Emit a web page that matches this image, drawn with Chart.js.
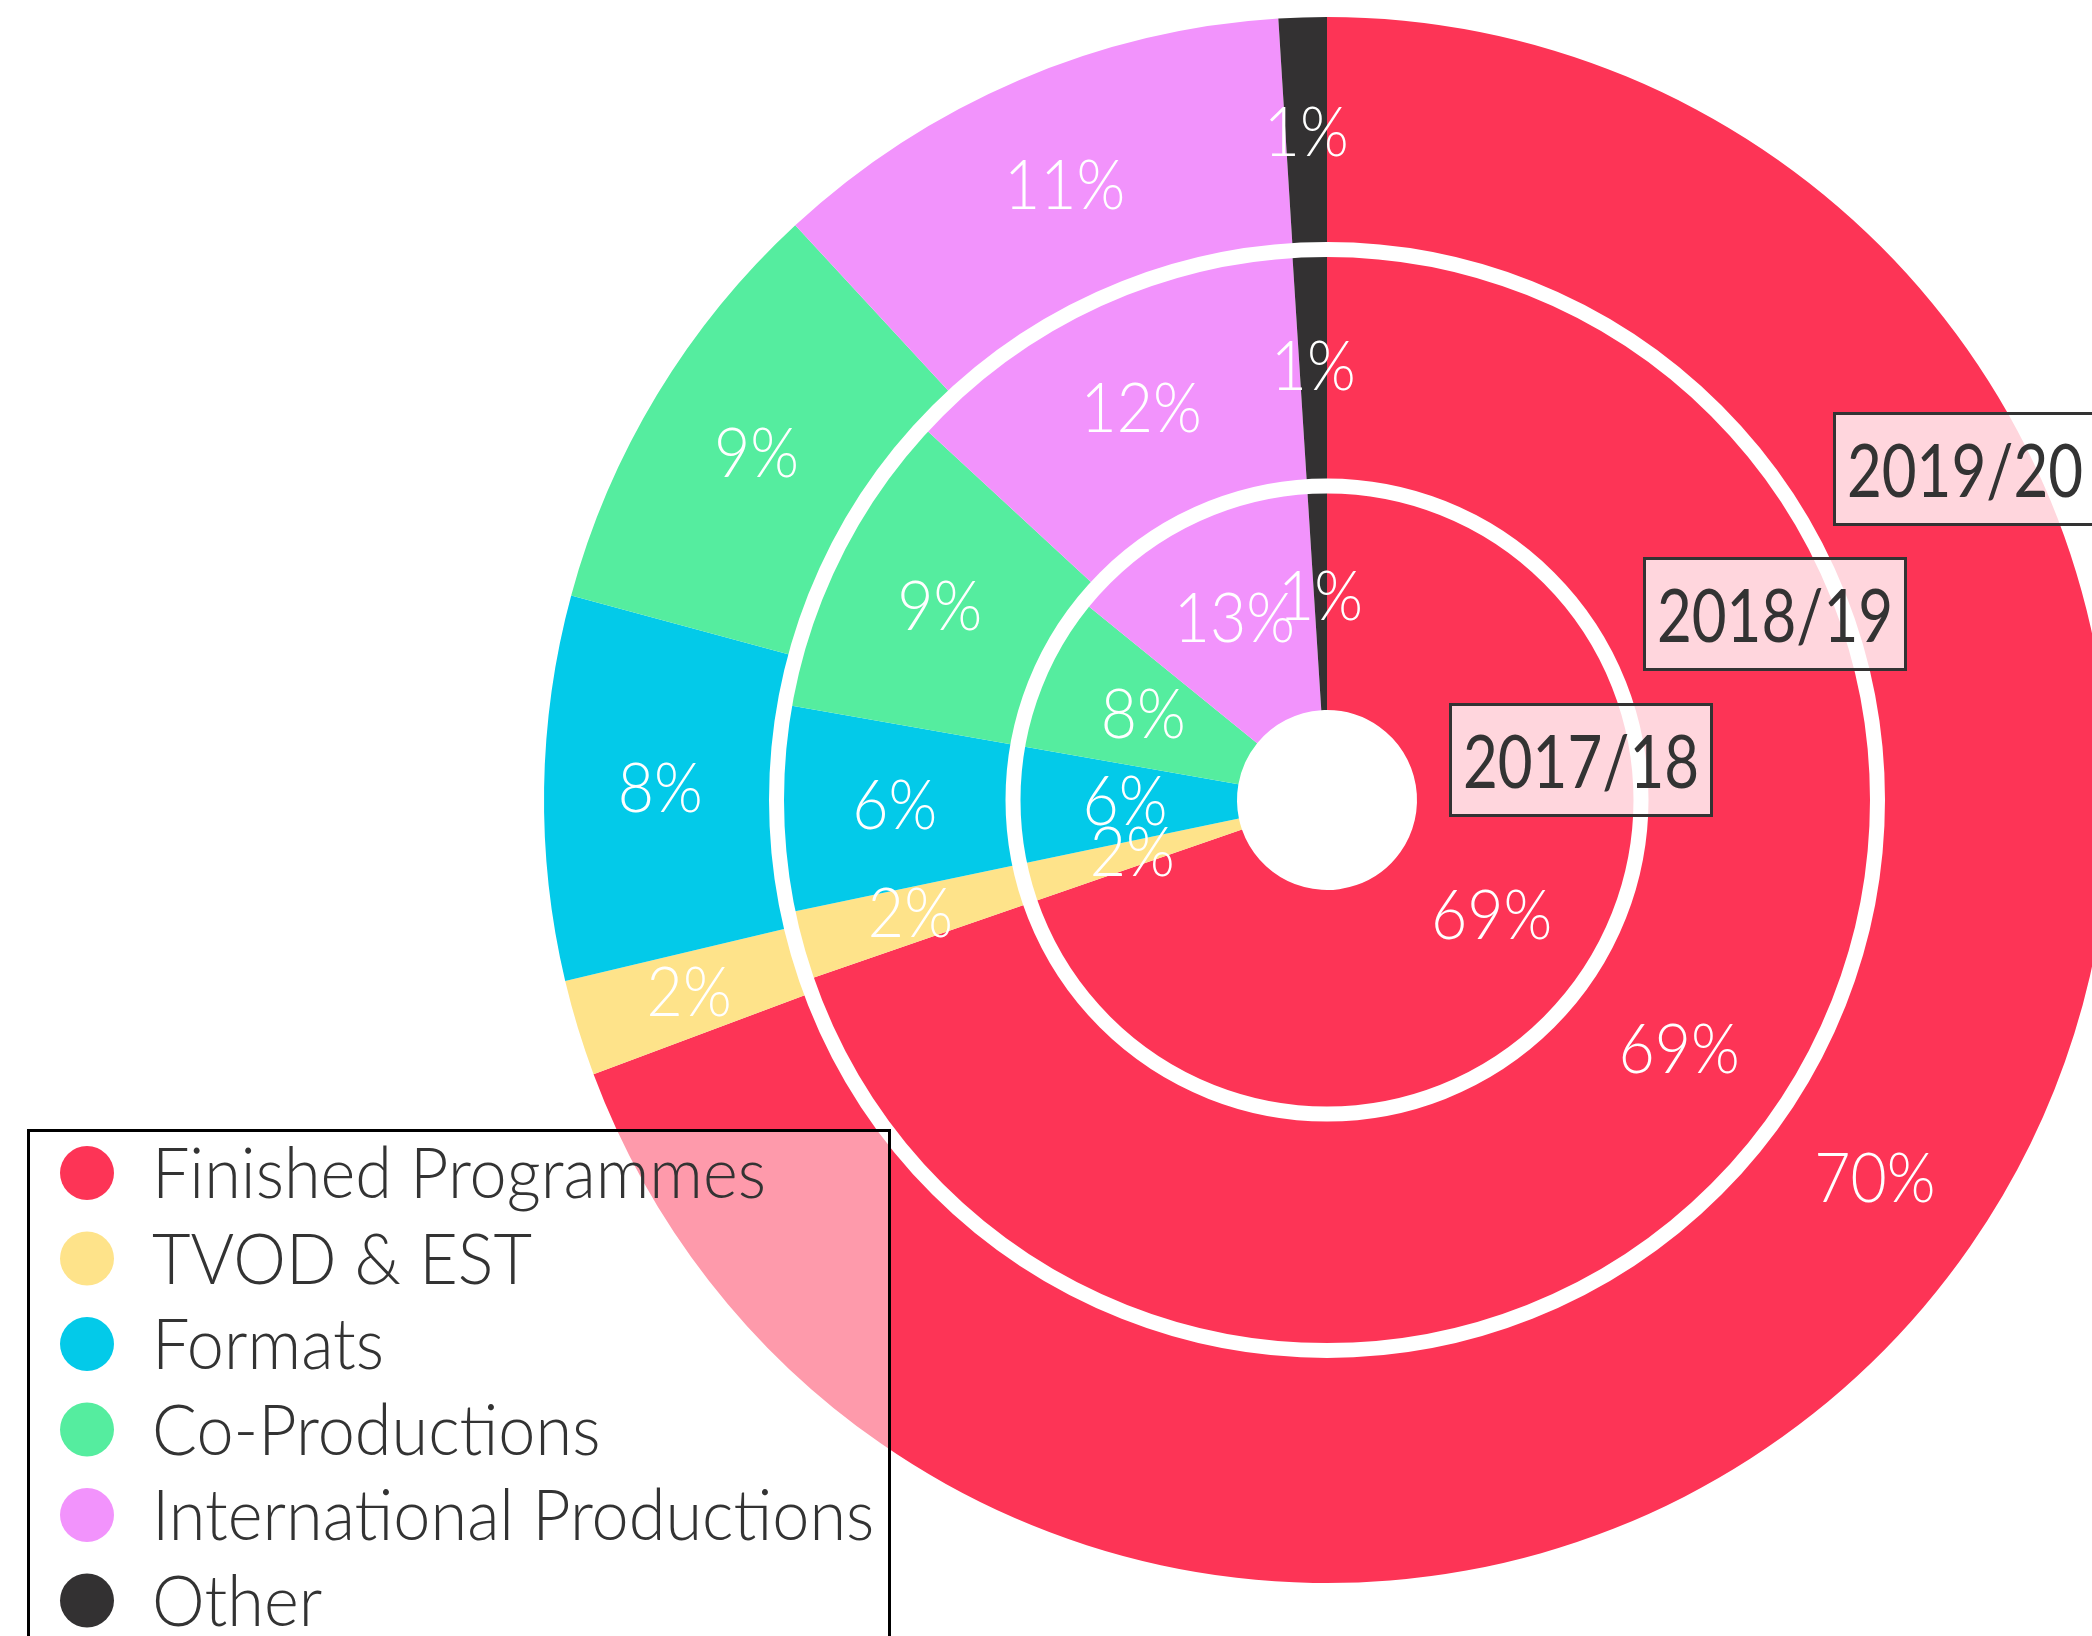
<!DOCTYPE html>
<html>
<head>
<meta charset="utf-8">
<script src="https://cdn.jsdelivr.net/npm/chart.js@4.4.0/dist/chart.umd.min.js"></script>
<style>
  html, body { margin: 0; padding: 0; background: #fff; overflow: hidden; }
  canvas { display: block; }
</style>
</head>
<body>
<canvas id="ringChart" width="2200" height="1636"></canvas>
<script>
// categories and values per year (outer ring first)
const categories = ['Finished Programmes', 'TVOD & EST', 'Formats', 'Co-Productions', 'International Productions', 'Other'];
const years = ['2019/20', '2018/19', '2017/18'];
const values1920 = [70, 2, 8, 9, 11, 1];
const values1819 = [69, 2, 6, 9, 12, 1];
const values1718 = [69, 2, 6, 8, 13, 1];
const colors = ['#FD3456', '#FEE38A', '#03CAE9', '#55ED9F', '#F293FC', '#333132'];

// draw text squeezed horizontally by a factor
function squeezedText(ctx, text, x, y, sx) {
    ctx.save();
    ctx.translate(x, y);
    ctx.scale(sx, 1);
    ctx.fillText(text, 0, 0);
    ctx.restore();
}

// white rings between the year rings, then the % labels
const ringLabels = {
    id: 'ringLabels',
    afterDatasetsDraw(chart) {
        const ctx = chart.ctx;
        const outer = chart.getDatasetMeta(0).controller;
        const middle = chart.getDatasetMeta(1).controller;
        const first = chart.getDatasetMeta(0).data[0];
        const cx = first.x, cy = first.y;
        ctx.save();
        ctx.strokeStyle = '#fff';
        ctx.lineWidth = 15;
        [outer.innerRadius, middle.innerRadius].forEach(r => {
            ctx.beginPath();
            ctx.arc(cx, cy, r, 0, Math.PI * 2);
            ctx.stroke();
        });

        ctx.fillStyle = '#fff';
        ctx.font = '300 68px Lato, "Open Sans", sans-serif';
        ctx.textAlign = 'center';
        ctx.textBaseline = 'middle';
        chart.data.datasets.forEach((ds, i) => {
            chart.getDatasetMeta(i).data.forEach((arc, j) => {
                const p = arc.getCenterPoint();
                squeezedText(ctx, ds.data[j] + '%', p.x, p.y, 0.92);
            });
        });
        ctx.restore();
    },
    afterDraw(chart) {
        const ctx = chart.ctx;
        const first = chart.getDatasetMeta(0).data[0];
        const cx = first.x, cy = first.y;
        ctx.save();

        // year tags
        const tagOffsets = [[506, -388], [316, -243], [122, -97]];
        ctx.font = '74px Lato, "Open Sans", sans-serif';
        ctx.textAlign = 'left';
        ctx.textBaseline = 'alphabetic';
        const tagScale = 236 / ctx.measureText('2017/18').width;
        years.forEach((y, i) => {
            const bx = cx + tagOffsets[i][0], by = cy + tagOffsets[i][1];
            ctx.fillStyle = 'rgba(255,255,255,0.8)';
            ctx.fillRect(bx, by, 264, 114);
            ctx.strokeStyle = '#333';
            ctx.lineWidth = 3;
            ctx.strokeRect(bx + 1.5, by + 1.5, 261, 111);
            ctx.fillStyle = '#333';
            squeezedText(ctx, y, bx + 14, by + 85, tagScale);
        });

        // legend
        const lx = 27, ly = 1129;
        ctx.fillStyle = 'rgba(255,255,255,0.5)';
        ctx.fillRect(lx, ly, 864, 600);
        ctx.strokeStyle = '#000';
        ctx.lineWidth = 3;
        ctx.strokeRect(lx + 1.5, ly + 1.5, 861, 600);
        ctx.font = '300 70px Lato, "Open Sans", sans-serif';
        const legScale = 614 / ctx.measureText(categories[0]).width;
        categories.forEach((c, i) => {
            const y = 1173 + i * 85.5;
            ctx.fillStyle = colors[i];
            ctx.beginPath();
            ctx.arc(87, y, 27, 0, Math.PI * 2);
            ctx.fill();
            ctx.fillStyle = '#333';
            squeezedText(ctx, c, 152, y + 25, legScale);
        });
        ctx.restore();
    }
};

const ctxRing = document.getElementById('ringChart').getContext('2d');
const ringChart = new Chart(ctxRing, {
    type: 'doughnut',
    data: {
        labels: categories,
        datasets: [
            { label: years[0], data: values1920, backgroundColor: colors, borderWidth: 0, weight: 232.5 },
            { label: years[1], data: values1819, backgroundColor: colors, borderWidth: 0, weight: 236.5 },
            { label: years[2], data: values1718, backgroundColor: colors, borderWidth: 0, weight: 224 }
        ]
    },
    options: {
        responsive: false,
        animation: false,
        cutout: 90,
        layout: { padding: { left: 544, right: 90, top: 17, bottom: 53 } },
        plugins: {
            legend: { display: false },
            tooltip: { enabled: false }
        }
    },
    plugins: [ringLabels]
});
</script>
</body>
</html>
